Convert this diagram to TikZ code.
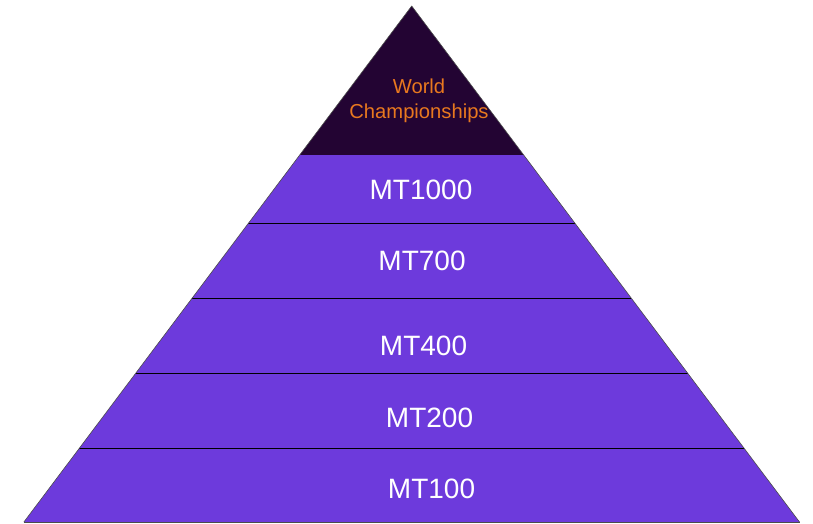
\documentclass[tikz,border=0pt]{standalone}
\usepackage{fontspec}
\setmainfont{Liberation Sans}
\definecolor{topdark}{HTML}{230433}
\definecolor{layerpurple}{HTML}{6D3ADC}
\definecolor{wcorange}{HTML}{E8781F}
\begin{document}
\begin{tikzpicture}[x=1pt,y=-1pt,
  band/.style={fill=layerpurple,draw=none},
  divider/.style={draw=black,line width=0.9pt},
  edge/.style={draw=black!70,line width=0.6pt},
  mtlabel/.style={text=white,font=\fontsize{28}{32}\selectfont,inner sep=0pt},
  wclabel/.style={text=wcorange,font=\fontsize{20.2}{25}\selectfont,align=center,inner sep=0pt}]
\useasboundingbox (0,0) rectangle (813,523);
% coordinates
\coordinate (apex) at (411.7,6);
\coordinate (l1) at (299.7,155); \coordinate (r1) at (523.7,155);
\coordinate (l2) at (248.3,223.5); \coordinate (r2) at (575.1,223.5);
\coordinate (l3) at (192.3,298); \coordinate (r3) at (631.1,298);
\coordinate (l4) at (135.9,373); \coordinate (r4) at (687.5,373);
\coordinate (l5) at (79.0,448.7); \coordinate (r5) at (744.4,448.7);
\coordinate (l6) at (23.9,522); \coordinate (r6) at (799.5,522);
% fills
\fill[topdark] (apex) -- (r1) -- (l1) -- cycle;
\fill[band] (l1) -- (r1) -- (r6) -- (l6) -- cycle;
% dividers
\draw[divider] (l2) -- (r2);
\draw[divider] (l3) -- (r3);
\draw[divider] (l4) -- (r4);
\draw[divider] (l5) -- (r5);
% outline
\draw[edge] (l6) -- (apex) -- (r6);
\draw[edge] (l6) -- (r6);
% labels
\node[wclabel] (wc) at (419,101) {World\\Championships};
\node[mtlabel] (mt1000) at (421,189.5) {MT1000};
\node[mtlabel] (mt700) at (422,260.5) {MT700};
\node[mtlabel] (mt400) at (423.5,345.5) {MT400};
\node[mtlabel] (mt200) at (429.5,417.5) {MT200};
\node[mtlabel] (mt100) at (431.5,488.5) {MT100};
\end{tikzpicture}
\end{document}
